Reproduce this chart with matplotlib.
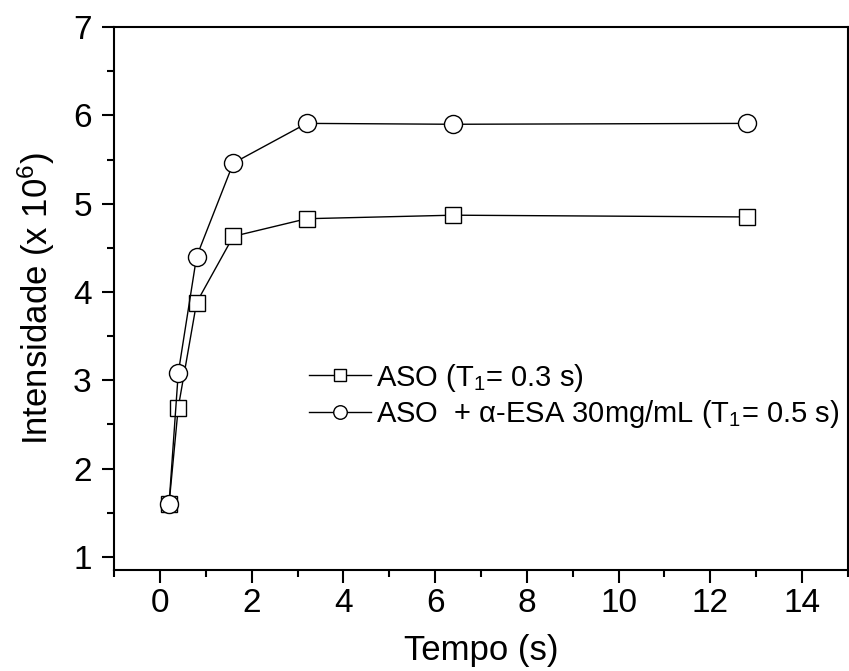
import matplotlib.pyplot as plt
from matplotlib.ticker import MultipleLocator

plt.rcParams['font.family'] = ['Liberation Sans', 'DejaVu Sans']
plt.rcParams['mathtext.fontset'] = 'custom'
plt.rcParams['mathtext.rm'] = 'Liberation Sans'
plt.rcParams['mathtext.it'] = 'Liberation Sans:italic'

# data
tempo = [0.2, 0.4, 0.8, 1.6, 3.2, 6.4, 12.8]
aso = [1.60, 2.69, 3.88, 4.63, 4.83, 4.87, 4.85]
aso_esa = [1.60, 3.08, 4.40, 5.46, 5.91, 5.90, 5.91]
labels = ['ASO (T$_1$= 0.3 s)', 'ASO  + \u03b1-ESA 30mg/mL (T$_1$= 0.5 s)']

fig = plt.figure(figsize=(8.49, 6.71), dpi=100)
ax = fig.add_axes([0.1343, 0.1505, 0.8645, 0.809])

ax.plot(tempo, aso, '-s', color='black', lw=1.0, ms=11, mfc='white',
        mec='black', mew=1.0, label=labels[0])
ax.plot(tempo, aso_esa, '-o', color='black', lw=1.0, ms=13, mfc='white',
        mec='black', mew=1.0, label=labels[1])

ax.set_xlim(-1, 15)
ax.set_ylim(0.85, 7)
ax.xaxis.set_major_locator(MultipleLocator(2))
ax.xaxis.set_minor_locator(MultipleLocator(1))
ax.yaxis.set_major_locator(MultipleLocator(1))
ax.yaxis.set_minor_locator(MultipleLocator(0.5))
ax.tick_params(which='both', direction='out', width=1.5, labelsize=24,
               top=False, right=False)
ax.tick_params(which='major', length=9)
ax.tick_params(axis='x', which='major', pad=4)
ax.tick_params(axis='y', which='major', pad=7)
ax.tick_params(which='minor', length=5)
for s in ax.spines.values():
    s.set_linewidth(1.5)

ax.set_xlabel('Tempo (s)', fontsize=25, labelpad=11)
ax.set_ylabel('Intensidade (x 10$^6$)', fontsize=25, labelpad=12)

ax.legend(loc='upper left', bbox_to_anchor=(0.266, 0.384), frameon=False,
          fontsize=21, handlelength=2.1, handletextpad=0.2, labelspacing=0.15,
          borderpad=0, borderaxespad=0, markerscale=0.75)

fig.savefig('out.png', dpi=100)
